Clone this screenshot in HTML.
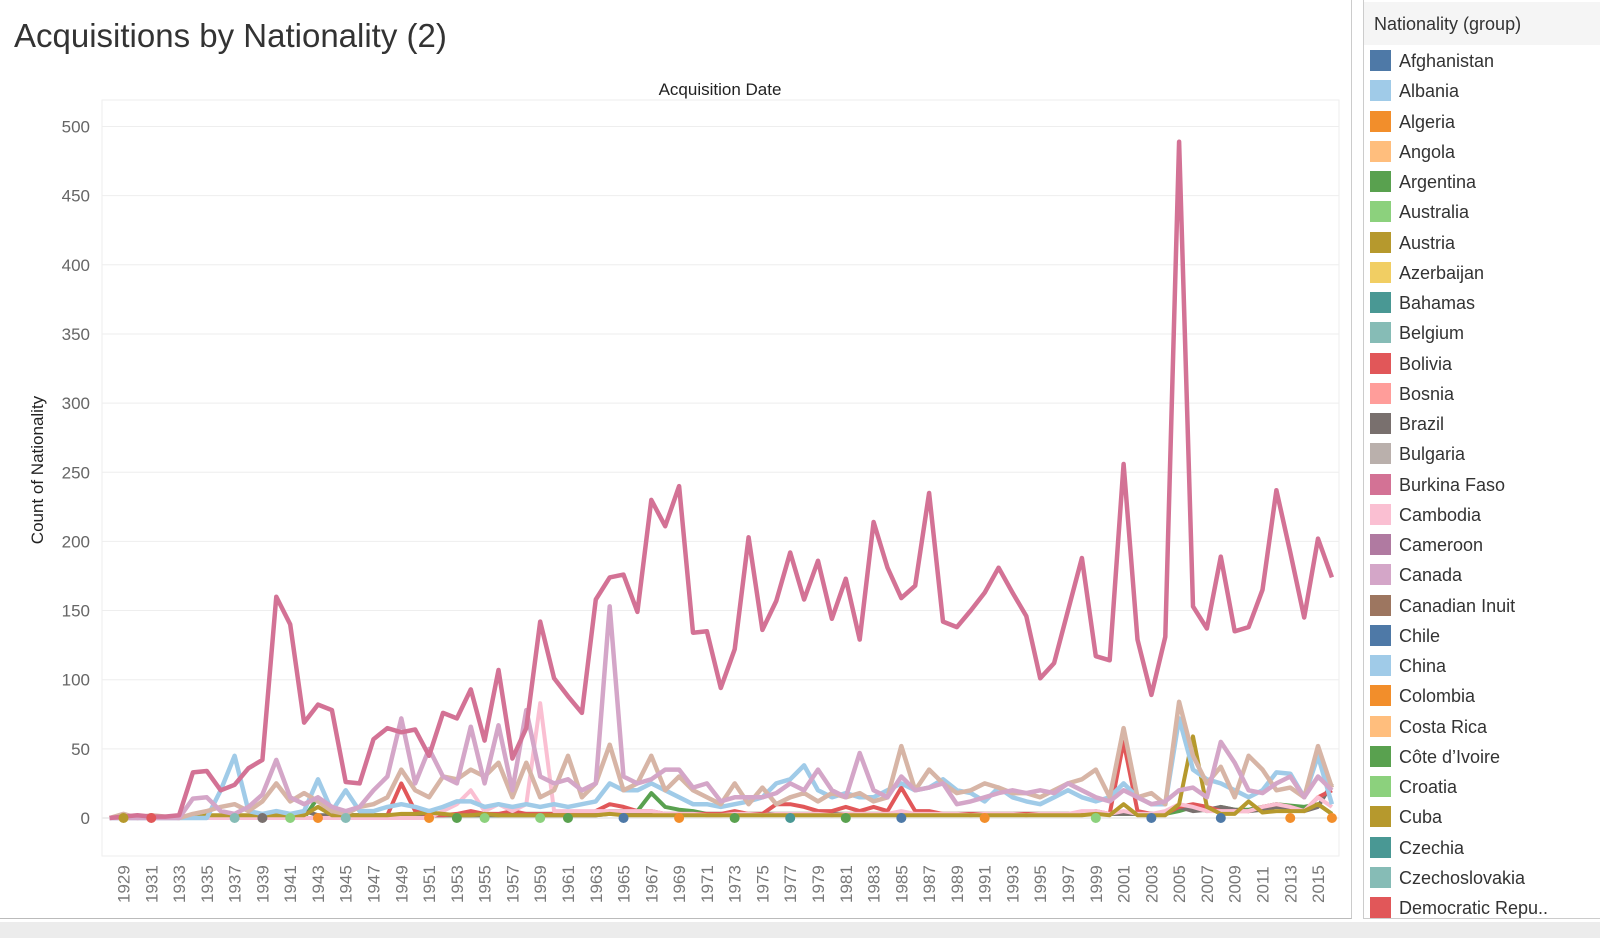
<!DOCTYPE html>
<html><head><meta charset="utf-8"><style>
body{margin:0;width:1600px;height:938px;background:#fff;font-family:"Liberation Sans",sans-serif;overflow:hidden;position:relative}
.abs{position:absolute}
.leg{position:absolute;left:1370px;font-size:18px;color:#333;height:22px;line-height:22px}
.leg span{display:inline-block;width:21px;height:21px;vertical-align:top;margin-right:8px}
</style></head><body>
<div class="abs" style="left:0;top:0;width:1352px;height:919px;border-right:1px solid #ccc;border-bottom:1px solid #bbb;box-sizing:border-box"></div>
<div class="abs" style="left:14px;top:17px;font-size:33px;color:#333">Acquisitions by Nationality (2)</div>
<div class="abs" style="left:1363px;top:0;width:237px;height:919px;border-left:1px solid #ccc;border-bottom:1px solid #ccc;box-sizing:border-box"></div>
<div class="abs" style="left:1364px;top:2px;width:236px;height:43px;background:#f5f5f5;font-size:18px;color:#333;line-height:44px;padding-left:10px;box-sizing:border-box">Nationality (group)</div>
<div id="legend"></div>
<div class="abs" style="left:0;top:922px;width:1600px;height:16px;background:#ececec"></div>
<svg id="chart" class="abs" style="left:0;top:0" width="1352" height="920"></svg>
<script>
const years=[];for(let y=1928;y<=2016;y++)years.push(y);
const usa=[0,1,2,1,1,2,33,34,20,24,
36,42,160,140,69,82,78,26,25,57,
65,62,64,45,76,72,93,56,107,43,
65,142,101,88,76,158,174,176,149,230,
211,240,134,135,94,122,203,136,157,192,
158,186,144,173,129,214,181,159,168,235,
142,138,150,163,181,163,146,101,112,150,
188,117,114,256,129,89,131,489,153,137,
189,135,138,165,237,192,145,202,174];
const canada=[0,0,0,0,0,0,14,15,5,3,
8,17,42,15,10,15,8,5,8,20,
30,72,25,50,30,25,66,25,67,20,
78,30,25,28,20,25,153,30,25,28,
35,35,22,25,12,15,15,15,18,25,
20,35,20,15,47,20,15,30,20,22,
25,10,12,15,18,20,18,20,18,25,
20,15,12,20,15,10,12,20,22,15,
55,40,20,18,25,30,15,30,20];
const tan=[0,3,0,2,1,0,3,5,8,10,
5,12,25,12,18,12,5,3,8,10,
15,35,20,15,30,28,35,30,40,15,
40,15,20,45,15,25,53,20,25,45,
20,30,20,15,10,25,10,22,10,15,
18,12,18,15,18,12,15,52,20,35,
25,18,20,25,22,18,18,15,20,25,
28,35,15,65,15,18,10,84,45,25,
37,15,45,35,20,22,15,52,22];
const china=[0,0,0,0,0,0,0,0,20,45,
5,3,5,3,5,28,5,20,5,5,
8,10,8,5,8,12,12,8,10,8,
10,8,10,8,10,12,25,20,20,25,
20,15,10,10,8,10,12,15,25,28,
38,20,15,18,15,15,20,25,20,22,
28,20,18,12,22,15,12,10,15,20,
15,12,15,25,15,10,10,72,35,28,
25,20,15,20,33,32,15,45,10];
const cambodia=[0,0,0,0,0,0,0,0,0,0,
0,0,0,0,0,0,0,0,0,0,
0,0,0,0,5,10,20,5,10,5,
10,83,5,5,5,5,5,5,5,5,
3,3,3,2,2,3,3,2,3,3,
3,3,2,3,3,3,3,5,3,3,
3,3,2,3,3,3,2,3,3,3,
5,5,3,5,3,3,5,10,8,5,
5,5,5,8,10,8,5,15,8];
const cuba=[0,0,0,0,0,0,0,2,2,2,
2,2,2,2,2,8,2,2,2,2,
2,3,3,4,3,2,2,3,2,2,
2,2,2,2,2,2,3,2,2,2,
2,2,2,2,2,2,2,2,2,2,
2,2,2,2,2,2,2,2,2,2,
2,2,2,2,2,2,2,2,2,2,
2,3,2,10,2,2,2,10,59,8,
3,3,12,4,5,5,5,10,3];
const bolivia=[0,0,0,0,0,0,0,0,0,0,
0,0,0,0,0,0,0,0,0,0,
2,25,5,2,2,3,5,3,3,5,
3,3,3,3,3,5,10,8,5,5,
3,3,3,3,3,5,3,3,10,10,
8,5,5,8,5,8,5,22,5,5,
3,3,3,3,3,3,3,3,3,3,
3,5,3,55,5,3,3,8,10,8,
5,5,5,8,10,8,5,15,20];
const argentina=[0,0,0,0,0,0,0,0,0,0,
0,0,0,0,0,15,2,2,2,2,
2,2,2,2,2,2,2,2,2,3,
3,3,3,3,3,3,5,5,5,18,
8,6,5,3,3,3,3,3,3,3,
3,3,3,3,3,3,3,3,3,3,
3,3,3,3,3,3,3,3,3,3,
3,3,3,3,3,3,3,5,8,5,
8,6,6,8,10,9,8,10,3];
const brazil=[0,0,0,0,0,0,0,0,0,0,
0,0,0,0,5,2,2,2,2,2,
2,2,2,2,2,2,2,2,2,2,
2,2,2,2,2,2,3,3,3,3,
3,3,3,3,3,3,3,3,3,3,
3,3,3,3,3,3,3,3,3,3,
3,3,3,3,3,3,3,3,3,3,
3,3,3,3,3,3,3,8,5,6,
8,6,5,6,8,7,5,8,25];
const dotYears=[1929,1931,1937,1939,1941,1943,1945,1951,1953,1955,1959,1961,1965,1969,1973,1977,1981,1985,1991,1999,2003,2008,2013,2016];
const dotColors=["#b6992d","#e15759","#86bcb6","#79706e","#8cd17d","#f28e2b","#86bcb6","#f28e2b","#59a14f","#8cd17d","#8cd17d","#59a14f","#4e79a7","#f28e2b","#59a14f","#499894","#59a14f","#4e79a7","#f28e2b","#8cd17d","#4e79a7","#4e79a7","#f28e2b","#f28e2b"];
const yTicks=[0,50,100,150,200,250,300,350,400,450,500];

const NS="http://www.w3.org/2000/svg";
const svg=document.getElementById('chart');
const X0=123.5,XS=13.89,Y0=818,YS=(818-126.5)/500;
const xp=y=>X0+(y-1929)*XS, yp=v=>Y0-v*YS;
function mk(t,a){const e=document.createElementNS(NS,t);for(const k in a)e.setAttribute(k,a[k]);svg.appendChild(e);return e;}
yTicks.forEach(t=>{
  const g=mk('line',{x1:102,x2:1339,y1:yp(t),y2:yp(t),stroke:t===0?'#ddd':'#eee','stroke-width':1});
  
  
  const l=mk('text',{x:90,y:yp(t)+6,'text-anchor':'end','font-size':17,fill:'#666','font-family':'Liberation Sans'});
  l.textContent=t;
  
  
});
const bx=mk('rect',{x:102,y:100,width:1237,height:756,fill:'none',stroke:'#eee'});


for(let y=1929;y<=2015;y+=2){
  const t=mk('text',{transform:`translate(${xp(y)+6},903) rotate(-90)`,'font-size':17,fill:'#777','font-family':'Liberation Sans'});
  t.textContent=y;
  
  
}
const yt=mk('text',{transform:'translate(43,470) rotate(-90)','text-anchor':'middle','font-size':17,fill:'#222','font-family':'Liberation Sans'});
yt.textContent='Count of Nationality';


const xt=mk('text',{x:720,y:95,'text-anchor':'middle','font-size':17,fill:'#222','font-family':'Liberation Sans'});
xt.textContent='Acquisition Date';


function line(vals,color,name,w){
  const d=vals.map((v,i)=>(i?'L':'M')+xp(years[i]).toFixed(1)+','+yp(v).toFixed(1)).join('');
  const p=mk('path',{d:d,fill:'none',stroke:color,'stroke-width':w,'stroke-linejoin':'round'});
  
  
}
line(argentina,'#59a14f','line-argentina',4);
line(brazil,'#79706e','line-brazil',4);
line(bolivia,'#e15759','line-bolivia',4);
line(cambodia,'#fabfd2','line-cambodia',4);
line(cuba,'#b6992d','line-cuba',4);
line(china,'#a0cbe8','line-china',4.5);
line(tan,'#d7b5a6','line-bulgaria',4.5);
line(canada,'#d4a6c8','line-canada',4.5);
line(usa,'#d37295','line-burkina-faso',4.5);
dotYears.forEach((y,i)=>{
  const c=mk('circle',{cx:xp(y),cy:Y0,r:5,fill:dotColors[i]});
  
  
});
const legNames=["Afghanistan","Albania","Algeria","Angola","Argentina","Australia","Austria","Azerbaijan","Bahamas","Belgium","Bolivia","Bosnia","Brazil","Bulgaria","Burkina Faso","Cambodia","Cameroon","Canada","Canadian Inuit","Chile","China","Colombia","Costa Rica","Côte d’Ivoire","Croatia","Cuba","Czechia","Czechoslovakia","Democratic Repu.."];
const legColors=["#4e79a7","#a0cbe8","#f28e2b","#ffbe7d","#59a14f","#8cd17d","#b6992d","#f1ce63","#499894","#86bcb6","#e15759","#ff9d9a","#79706e","#bab0ac","#d37295","#fabfd2","#b07aa1","#d4a6c8","#9d7660","#4e79a7","#a0cbe8","#f28e2b","#ffbe7d","#59a14f","#8cd17d","#b6992d","#499894","#86bcb6","#e15759"];
const lg=document.getElementById('legend');
legNames.forEach((n,i)=>{
  const d=document.createElement('div');
  d.className='leg';d.style.top=(50+i*30.25)+'px';
  d.innerHTML='<span style="background:'+legColors[i]+'"></span>'+n;
  
  
  lg.appendChild(d);
});
</script>
</body></html>
